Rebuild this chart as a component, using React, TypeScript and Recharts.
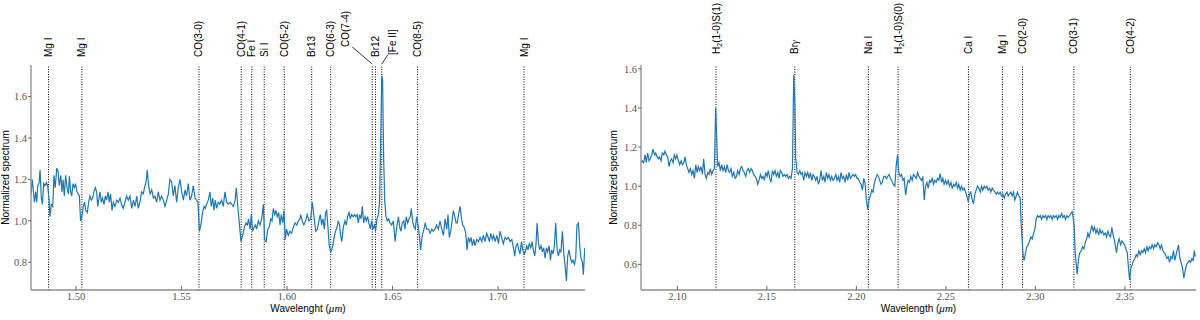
import React from 'react';
import { LineChart, Line, XAxis, YAxis, ReferenceLine } from 'recharts';

// H band spectrum (micron, normalized flux)
const hWave = [
  1.4787, 1.4793, 1.4803, 1.4809, 1.4814, 1.4819, 1.4825, 1.483, 1.4836, 1.4841, 1.4847, 1.4853, 1.486, 1.4866,
  1.4872, 1.4877, 1.4883, 1.489, 1.4896, 1.4902, 1.4909, 1.4915, 1.4921, 1.4928, 1.4934, 1.4939, 1.4945, 1.4951,
  1.4958, 1.4964, 1.4969, 1.4975, 1.498, 1.4986, 1.4992, 1.4998, 1.5005, 1.5011, 1.5016, 1.5022, 1.5028, 1.5035,
  1.5041, 1.5047, 1.5054, 1.506, 1.5066, 1.5073, 1.5079, 1.5085, 1.5092, 1.5098, 1.5103, 1.5109, 1.5114, 1.512,
  1.5126, 1.5133, 1.5139, 1.5145, 1.5152, 1.5158, 1.5164, 1.5171, 1.5177, 1.5185, 1.5193, 1.5201, 1.5209, 1.5216,
  1.5224, 1.5232, 1.524, 1.5248, 1.5256, 1.5264, 1.5272, 1.528, 1.5288, 1.5295, 1.5303, 1.5311, 1.5319, 1.5325,
  1.5332, 1.5338, 1.5344, 1.5351, 1.5359, 1.5367, 1.5374, 1.5382, 1.539, 1.5398, 1.5406, 1.5414, 1.5422, 1.543,
  1.5438, 1.5445, 1.5453, 1.5461, 1.5469, 1.5477, 1.5485, 1.5493, 1.5501, 1.5509, 1.5517, 1.5524, 1.5532, 1.554,
  1.5548, 1.5556, 1.5564, 1.5572, 1.5578, 1.5585, 1.5592, 1.56, 1.5607, 1.5613, 1.5619, 1.5627, 1.5635, 1.5641,
  1.5648, 1.5654, 1.566, 1.5667, 1.5674, 1.5682, 1.569, 1.5698, 1.5706, 1.5714, 1.5722, 1.573, 1.5738, 1.5746,
  1.5754, 1.576, 1.5766, 1.5774, 1.5782, 1.579, 1.5798, 1.5806, 1.5812, 1.5818, 1.5825, 1.5831, 1.5837, 1.5844,
  1.585, 1.5856, 1.5864, 1.5872, 1.588, 1.5888, 1.5894, 1.5901, 1.5909, 1.5916, 1.5923, 1.5929, 1.5935, 1.5942,
  1.5948, 1.5954, 1.5961, 1.5967, 1.5973, 1.598, 1.5986, 1.5992, 1.5998, 1.6006, 1.6014, 1.6022, 1.603, 1.6038,
  1.6046, 1.6054, 1.6062, 1.6065, 1.6072, 1.608, 1.6088, 1.6096, 1.6104, 1.6112, 1.612, 1.6128, 1.6136, 1.6144,
  1.6151, 1.6158, 1.6164, 1.617, 1.6177, 1.6183, 1.6188, 1.6194, 1.62, 1.6207, 1.6215, 1.6223, 1.623, 1.6237,
  1.6243, 1.6249, 1.6254, 1.626, 1.6267, 1.6275, 1.6281, 1.6287, 1.6294, 1.63, 1.6306, 1.6313, 1.6319, 1.6325,
  1.6332, 1.6338, 1.6344, 1.6351, 1.6357, 1.6363, 1.637, 1.6376, 1.6382, 1.6388, 1.6395, 1.6401, 1.6407, 1.6414,
  1.642, 1.6426, 1.6433, 1.6439, 1.6444, 1.6449, 1.6453, 1.6458, 1.6463, 1.6469, 1.6475, 1.6482, 1.6488, 1.6496,
  1.6504, 1.6512, 1.652, 1.6528, 1.6534, 1.654, 1.6546, 1.6553, 1.6559, 1.6565, 1.6572, 1.6578, 1.6584, 1.6589,
  1.6595, 1.6602, 1.6608, 1.6614, 1.6621, 1.6627, 1.6633, 1.6641, 1.6649, 1.6655, 1.6662, 1.667, 1.6678, 1.6686,
  1.6693, 1.6701, 1.6709, 1.6717, 1.6725, 1.6733, 1.6741, 1.6749, 1.6757, 1.6763, 1.6769, 1.6776, 1.6782, 1.6788,
  1.6795, 1.6801, 1.6807, 1.6813, 1.682, 1.6826, 1.6832, 1.6839, 1.6847, 1.6853, 1.6859, 1.6866, 1.6872, 1.6878,
  1.6885, 1.6891, 1.6899, 1.6907, 1.6915, 1.6923, 1.693, 1.6938, 1.6946, 1.6953, 1.6959, 1.6965, 1.6973, 1.6979,
  1.6986, 1.6994, 1.7002, 1.7009, 1.7017, 1.7025, 1.7033, 1.7041, 1.7049, 1.7057, 1.7065, 1.7073, 1.7079, 1.7085,
  1.7092, 1.7098, 1.7104, 1.7111, 1.7117, 1.7123, 1.7129, 1.7136, 1.7142, 1.7148, 1.7155, 1.7161, 1.7167, 1.7174,
  1.718, 1.7185, 1.7191, 1.7197, 1.7204, 1.721, 1.7216, 1.7223, 1.7229, 1.7235, 1.7242, 1.7248, 1.7254, 1.7261,
  1.7267, 1.7273, 1.728, 1.7286, 1.7292, 1.7298, 1.7305, 1.7311, 1.7317, 1.7324, 1.733, 1.7336, 1.7343, 1.7349,
  1.7355, 1.7362, 1.7368, 1.7374, 1.7381, 1.7387, 1.7393, 1.74, 1.7404, 1.7411,
];
const hFlux = [
  1.13, 1.2, 1.09, 1.14, 1.09, 1.17, 1.18, 1.245, 1.11, 1.08, 1.18, 1.17, 1.185, 1.17,
  1.11, 1.02, 1.08, 1.07, 1.22, 1.16, 1.255, 1.24, 1.17, 1.22, 1.14, 1.2, 1.12, 1.22,
  1.16, 1.13, 1.215, 1.14, 1.12, 1.18, 1.16, 1.18, 1.14, 1.13, 1.12, 1.0, 1.02, 1.07,
  1.09, 1.05, 1.04, 1.09, 1.12, 1.1, 1.11, 1.14, 1.16, 1.14, 1.07, 1.11, 1.14, 1.09,
  1.11, 1.08, 1.12, 1.1, 1.14, 1.09, 1.13, 1.05, 1.09, 1.07, 1.1, 1.09, 1.11, 1.08,
  1.06, 1.09, 1.12, 1.1, 1.12, 1.06, 1.1, 1.07, 1.12, 1.06, 1.09, 1.14, 1.13, 1.16,
  1.19, 1.245, 1.17, 1.13, 1.15, 1.11, 1.12, 1.09, 1.14, 1.1, 1.12, 1.1, 1.07, 1.1,
  1.13, 1.2, 1.19, 1.12, 1.17, 1.09, 1.16, 1.2, 1.14, 1.1, 1.15, 1.12, 1.18, 1.1,
  1.12, 1.17, 1.11, 1.1, 1.09, 0.95, 0.98, 1.04, 1.07, 1.06, 1.08, 1.1, 1.14, 1.07,
  1.11, 1.05, 1.1, 1.06, 1.09, 1.08, 1.1, 1.07, 1.14, 1.09, 1.08, 1.09, 1.08, 1.07,
  1.1, 1.16, 1.08, 0.99, 0.9, 0.93, 0.97, 0.99, 0.98, 1.01, 0.96, 1.03, 0.95, 0.97,
  0.98, 0.96, 1.0, 0.98, 1.01, 1.08, 0.91, 0.9, 0.96, 0.97, 1.01, 1.0, 1.06, 1.03,
  1.05, 1.02, 1.04, 0.98, 1.03, 0.99, 1.05, 0.91, 0.96, 0.93, 0.95, 0.94, 0.97, 0.99,
  0.98, 1.0, 1.01, 1.03, 1.0, 0.98, 1.0, 1.03, 1.0, 1.01, 1.09, 1.02, 0.95, 0.96,
  1.0, 1.03, 0.98, 1.01, 0.96, 1.04, 1.05, 0.97, 0.88, 0.85, 0.87, 0.92, 0.95, 0.97,
  1.0, 0.98, 0.93, 0.9, 0.97, 1.0, 0.98, 1.02, 1.04, 1.01, 1.03, 1.02, 1.03, 1.02,
  1.03, 0.99, 1.03, 1.01, 1.07, 0.99, 1.02, 1.0, 1.02, 0.99, 0.96, 1.0, 0.96, 0.98,
  0.95, 1.01, 1.03, 1.1, 1.4, 1.7, 1.68, 1.3, 1.1, 1.02, 1.0, 1.01, 0.99, 0.98,
  1.0, 0.9, 0.97, 1.02, 0.97, 0.95, 0.99, 1.0, 0.96, 1.02, 0.99, 1.01, 1.02, 1.06,
  1.0, 0.97, 0.96, 1.02, 0.98, 0.93, 0.86, 0.93, 0.96, 0.99, 0.96, 0.96, 0.94, 0.96,
  0.95, 0.96, 0.98, 0.96, 1.0, 0.96, 0.93, 1.01, 0.96, 1.03, 0.92, 0.95, 1.0, 1.05,
  1.02, 0.99, 0.99, 1.03, 1.07, 1.02, 0.98, 0.97, 0.94, 0.86, 0.92, 0.9, 0.92, 0.88,
  0.91, 0.88, 0.91, 0.9, 0.92, 0.9, 0.93, 0.9, 0.94, 0.92, 0.9, 0.94, 0.91, 0.93,
  0.9, 0.93, 0.89, 0.95, 0.92, 0.89, 0.92, 0.91, 0.92, 0.9, 0.91, 0.87, 0.83, 0.88,
  0.89, 0.86, 0.84, 0.9, 0.86, 0.84, 0.85, 0.88, 0.86, 0.89, 0.87, 0.9, 0.86, 0.83,
  0.89, 0.99, 0.9, 0.86, 0.88, 0.85, 0.87, 0.82, 0.87, 0.85, 0.88, 0.81, 0.86, 0.84,
  0.88, 0.99, 0.86, 0.83, 0.86, 0.85, 0.95, 0.85, 0.79, 0.71, 0.83, 0.86, 0.82, 0.8,
  0.81, 0.79, 0.82, 0.98, 0.99, 0.88, 0.82, 0.8, 0.74, 0.87,
];

// K band spectrum
const kWave = [
  2.0797, 2.0805, 2.0812, 2.082, 2.0827, 2.0834, 2.0842, 2.0849, 2.0857, 2.0864, 2.0872, 2.0879, 2.0887, 2.0894,
  2.0901, 2.0909, 2.0916, 2.0924, 2.0931, 2.0939, 2.0946, 2.0954, 2.0961, 2.0968, 2.0976, 2.0983, 2.0991, 2.0998,
  2.1006, 2.1013, 2.1021, 2.1028, 2.1036, 2.1043, 2.105, 2.1058, 2.1065, 2.1073, 2.108, 2.1088, 2.1095, 2.1103,
  2.111, 2.1117, 2.1125, 2.1132, 2.114, 2.1147, 2.1155, 2.1162, 2.117, 2.1177, 2.1184, 2.1192, 2.1199, 2.1207,
  2.1214, 2.122, 2.1225, 2.1233, 2.124, 2.1248, 2.1255, 2.1263, 2.127, 2.1278, 2.1285, 2.1292, 2.13, 2.1307,
  2.1315, 2.1322, 2.133, 2.1337, 2.1345, 2.1352, 2.1359, 2.1367, 2.1374, 2.1382, 2.1389, 2.1397, 2.1404, 2.1412,
  2.1419, 2.1426, 2.1434, 2.1441, 2.1449, 2.1456, 2.1464, 2.1471, 2.1479, 2.1486, 2.1494, 2.1501, 2.1508, 2.1516,
  2.1523, 2.1531, 2.1538, 2.1546, 2.1553, 2.1561, 2.1568, 2.1575, 2.1583, 2.159, 2.1598, 2.1605, 2.1613, 2.162,
  2.1628, 2.1635, 2.1643, 2.165, 2.1656, 2.1661, 2.1669, 2.1676, 2.1684, 2.1691, 2.1698, 2.1706, 2.1713, 2.1721,
  2.1728, 2.1736, 2.1743, 2.1751, 2.1758, 2.1765, 2.1773, 2.178, 2.1788, 2.1795, 2.1803, 2.181, 2.1818, 2.1825,
  2.1832, 2.184, 2.1847, 2.1855, 2.1862, 2.187, 2.1877, 2.1885, 2.1892, 2.19, 2.1907, 2.1914, 2.1922, 2.1929,
  2.1937, 2.1944, 2.1952, 2.1959, 2.1967, 2.1974, 2.1981, 2.1989, 2.1996, 2.2004, 2.2011, 2.2019, 2.2026, 2.2034,
  2.2041, 2.2048, 2.2056, 2.2063, 2.2071, 2.2078, 2.2086, 2.2093, 2.2101, 2.2108, 2.2116, 2.2123, 2.213, 2.2138,
  2.2145, 2.2153, 2.216, 2.2168, 2.2175, 2.2183, 2.219, 2.2196, 2.2206, 2.2215, 2.2222, 2.223, 2.2237, 2.2245,
  2.2252, 2.226, 2.2267, 2.2275, 2.2282, 2.2289, 2.2297, 2.2304, 2.2312, 2.2319, 2.2327, 2.2334, 2.2342, 2.2349,
  2.2356, 2.2364, 2.2371, 2.2379, 2.2386, 2.2394, 2.2401, 2.2409, 2.2416, 2.2423, 2.2431, 2.2438, 2.2446, 2.2453,
  2.2461, 2.2468, 2.2476, 2.2483, 2.249, 2.2498, 2.2505, 2.2513, 2.252, 2.2528, 2.2535, 2.2543, 2.255, 2.2558,
  2.2565, 2.2572, 2.258, 2.2587, 2.2595, 2.2602, 2.261, 2.2617, 2.2625, 2.2632, 2.2639, 2.2647, 2.2654, 2.2662,
  2.2669, 2.2677, 2.2684, 2.2692, 2.2699, 2.2706, 2.2714, 2.2721, 2.2729, 2.2736, 2.2744, 2.2751, 2.2759, 2.2766,
  2.2774, 2.2781, 2.2788, 2.2796, 2.2803, 2.2811, 2.2818, 2.2826, 2.2833, 2.2841, 2.2848, 2.2855, 2.2863, 2.287,
  2.2878, 2.2885, 2.2893, 2.29, 2.2908, 2.2915, 2.2921, 2.2926, 2.2932, 2.2937, 2.2945, 2.2952, 2.296, 2.2967,
  2.2975, 2.2982, 2.299, 2.2997, 2.3004, 2.3012, 2.3019, 2.3027, 2.3034, 2.3042, 2.3049, 2.3057, 2.3064, 2.3071,
  2.3079, 2.3086, 2.3094, 2.3101, 2.3109, 2.3116, 2.3124, 2.3131, 2.3138, 2.3146, 2.3153, 2.3161, 2.3168, 2.3176,
  2.3183, 2.3191, 2.3198, 2.3205, 2.3211, 2.3217, 2.3222, 2.3228, 2.3233, 2.3241, 2.3248, 2.3256, 2.3263, 2.3271,
  2.3278, 2.3286, 2.3293, 2.33, 2.3308, 2.3315, 2.3323, 2.333, 2.3338, 2.3345, 2.3353, 2.336, 2.3367, 2.3375,
  2.3382, 2.339, 2.3397, 2.3405, 2.3412, 2.342, 2.3427, 2.3434, 2.3442, 2.3453, 2.3461, 2.3468, 2.3476, 2.3483,
  2.3491, 2.3498, 2.3505, 2.3513, 2.352, 2.3526, 2.3533, 2.3541, 2.3548, 2.3556, 2.3563, 2.357, 2.3578, 2.3585,
  2.3593, 2.36, 2.3608, 2.3615, 2.3623, 2.363, 2.3637, 2.3645, 2.3652, 2.366, 2.3667, 2.3675, 2.3682, 2.369,
  2.3697, 2.3704, 2.3712, 2.3719, 2.3727, 2.3734, 2.3742, 2.3749, 2.3757, 2.3764, 2.3771, 2.3779, 2.3786, 2.3799,
  2.3807, 2.3814, 2.3822, 2.3829, 2.3837, 2.3844, 2.3852, 2.3859, 2.3867, 2.3874, 2.3881, 2.3887, 2.3893,
];
const kFlux = [
  1.12, 1.13, 1.12, 1.16, 1.12, 1.17, 1.13, 1.14, 1.16, 1.19, 1.16, 1.17, 1.15, 1.14,
  1.15, 1.13, 1.17, 1.16, 1.18, 1.16, 1.15, 1.1, 1.13, 1.14, 1.12, 1.16, 1.14, 1.16,
  1.13, 1.11, 1.13, 1.11, 1.12, 1.15, 1.11, 1.09, 1.07, 1.09, 1.06, 1.08, 1.04, 1.11,
  1.07, 1.1, 1.08, 1.1, 1.06, 1.14, 1.06, 1.04, 1.07, 1.06, 1.09, 1.06, 1.08, 1.09,
  1.4, 1.25, 1.1, 1.12, 1.08, 1.11, 1.08, 1.1, 1.07, 1.11, 1.08, 1.07, 1.09, 1.05,
  1.07, 1.04, 1.05, 1.08, 1.06, 1.09, 1.1, 1.08, 1.07, 1.05, 1.08, 1.09, 1.07, 1.09,
  1.08, 1.06, 1.05, 1.04, 1.01, 1.03, 1.06, 1.04, 1.05, 1.03, 1.07, 1.05, 1.08, 1.04,
  1.02, 1.08, 1.06, 1.08, 1.05, 1.07, 1.04, 1.08, 1.07, 1.05, 1.06, 1.05, 1.06, 1.04,
  1.05, 1.04, 1.09, 1.57, 1.45, 1.15, 1.07, 1.06, 1.08, 1.06, 1.07, 1.03, 1.07, 1.05,
  1.07, 1.04, 1.07, 1.03, 1.06, 1.05, 1.03, 1.05, 1.01, 1.03, 1.08, 1.03, 1.05, 1.02,
  1.07, 1.04, 1.06, 1.03, 1.05, 1.03, 1.04, 1.06, 1.03, 1.05, 1.02, 1.07, 1.04, 1.05,
  1.02, 1.06, 1.03, 1.07, 1.04, 1.05, 1.06, 1.05, 1.06, 1.04, 1.04, 1.02, 1.01, 0.98,
  1.04, 1.02, 0.93, 0.88, 0.93, 0.95, 0.98, 0.97, 1.02, 1.04, 1.06, 1.05, 1.03, 1.01,
  1.02, 1.05, 1.05, 1.04, 1.05, 1.06, 1.04, 1.03, 1.01, 1.0, 1.1, 1.16, 1.07, 1.05,
  1.06, 1.03, 1.04, 0.955, 1.0, 1.03, 1.02, 1.05, 1.03, 1.06, 1.05, 1.04, 1.07, 1.05,
  1.04, 1.03, 1.05, 0.93, 1.0, 1.02, 0.99, 1.03, 1.02, 1.04, 1.01, 1.03, 1.02, 1.04,
  1.03, 1.065, 1.02, 1.04, 1.01, 1.03, 1.01, 1.03, 1.0, 1.02, 0.99, 1.01, 1.0, 1.02,
  0.99, 1.01, 0.98, 1.0, 0.98, 0.99, 0.97, 0.95, 0.92, 0.96, 0.97, 0.93, 0.91, 0.96,
  0.98, 1.0, 0.99, 0.97, 1.0, 0.98, 1.0, 0.99, 1.0, 0.98, 0.99, 0.97, 0.99, 0.98,
  0.97, 0.96, 0.97, 0.96, 0.97, 0.95, 0.96, 0.94, 0.96, 0.97, 0.95, 0.96, 0.97, 0.95,
  0.97, 0.93, 0.95, 0.97, 0.95, 0.94, 0.8, 0.72, 0.64, 0.62, 0.66, 0.69, 0.7, 0.72,
  0.74, 0.73, 0.76, 0.78, 0.83, 0.85, 0.84, 0.85, 0.83, 0.85, 0.84, 0.85, 0.83, 0.85,
  0.84, 0.85, 0.83, 0.85, 0.84, 0.85, 0.83, 0.85, 0.84, 0.86, 0.84, 0.85, 0.83, 0.85,
  0.84, 0.85, 0.86, 0.87, 0.84, 0.78, 0.66, 0.6, 0.55, 0.63, 0.66, 0.67, 0.69, 0.68,
  0.71, 0.73, 0.76, 0.74, 0.77, 0.8, 0.77, 0.79, 0.76, 0.78, 0.75, 0.78, 0.76, 0.77,
  0.75, 0.76, 0.74, 0.77, 0.75, 0.74, 0.79, 0.75, 0.72, 0.66, 0.71, 0.73, 0.7, 0.72,
  0.71, 0.7, 0.68, 0.66, 0.58, 0.52, 0.58, 0.6, 0.62, 0.63, 0.65, 0.64, 0.67, 0.65,
  0.67, 0.66, 0.68, 0.66, 0.69, 0.67, 0.69, 0.68, 0.7, 0.68, 0.7, 0.69, 0.71, 0.7,
  0.68, 0.7, 0.67, 0.66, 0.65, 0.63, 0.64, 0.61, 0.64, 0.63, 0.67, 0.62, 0.65, 0.7,
  0.63, 0.61, 0.58, 0.53, 0.57, 0.6, 0.61, 0.62, 0.61, 0.63, 0.62, 0.67, 0.64,
];

// identified features
const hLineNames = ['Mg I', 'Mg I', 'CO(3-0)', 'CO(4-1)', 'Fe I', 'Si I', 'CO(5-2)', 'Br13', 'CO(6-3)', 'CO(7-4)', 'Br12', '[Fe II]', 'CO(8-5)', 'Mg I'];
const hLineWaves = [1.487, 1.5028, 1.5583, 1.5783, 1.5833, 1.5892, 1.5987, 1.6117, 1.6207, 1.6404, 1.6419, 1.6449, 1.6619, 1.7123];
const kLineNames = ['H2(1-0)S(1)', 'Brγ', 'Na I', 'H2(1-0)S(0)', 'Ca I', 'Mg I', 'CO(2-0)', 'CO(3-1)', 'CO(4-2)'];
const kLineWaves = [2.1216, 2.1656, 2.2067, 2.2233, 2.2626, 2.2816, 2.2928, 2.3215, 2.353];

const hXTicks = [1.5, 1.55, 1.6, 1.65, 1.7];
const hYTicks = [0.8, 1.0, 1.2, 1.4, 1.6];
const kXTicks = [2.1, 2.15, 2.2, 2.25, 2.3, 2.35];
const kYTicks = [0.6, 0.8, 1.0, 1.2, 1.4, 1.6];

// labels that are pushed aside, with a leader line
const labelShift: Record<string, { dx: number; gap: number; lead: number }> = {
  'CO(7-4)': { dx: -27, gap: 18, lead: 7 },
  '[Fe II]': { dx: 11, gap: 10, lead: -5 },
};

const AXIS = '#8c8c8c';
const SPEC = '#1f77b4';
const SANS = '"Liberation Sans", Arial, sans-serif';
const SERIF = '"Liberation Serif", "DejaVu Serif", serif';

function nameText(name: string) {
  if (name.startsWith('H2')) {
    return (
      <>
        <tspan>H</tspan>
        <tspan fontSize={7} dy={2}>2</tspan>
        <tspan dy={-2}>{name.slice(2)}</tspan>
      </>
    );
  }
  if (name === 'Brγ') {
    return (
      <>
        <tspan>Br</tspan>
        <tspan fontFamily={SERIF} fontStyle="italic">γ</tspan>
      </>
    );
  }
  return name;
}

function MarkLabel(props: any) {
  const { viewBox, name, gap } = props;
  const lx = viewBox.x;
  const top = viewBox.y;
  const s = labelShift[name];
  const cx = lx + (s ? s.dx : 0);
  const bottom = top - (s ? s.gap : gap);
  return (
    <g>
      {s && (
        <line x1={cx + s.lead} y1={bottom} x2={lx} y2={top - 1} stroke="#000" strokeWidth={0.8} />
      )}
      <text
        transform={`translate(${cx + 3.5},${bottom}) rotate(-90)`}
        fontFamily={SANS}
        fontSize={10}
        fill="#000"
      >
        {nameText(name)}
      </text>
    </g>
  );
}

function XTick(props: any) {
  const { x, y, payload } = props;
  return (
    <text x={x} y={y} dy="0.71em" textAnchor="middle" fontFamily={SERIF} fontSize={10.5} fill="#555">
      {Number(payload.value).toFixed(2)}
    </text>
  );
}

function YTick(props: any) {
  const { x, y, payload } = props;
  return (
    <text x={x} y={y} dy="0.35em" textAnchor="end" fontFamily={SERIF} fontSize={10.5} fill="#555">
      {Number(payload.value).toFixed(1)}
    </text>
  );
}

function XLabel(props: any) {
  const { viewBox, text } = props;
  return (
    <text
      x={viewBox.x + viewBox.width / 2}
      y={viewBox.y + 22}
      textAnchor="middle"
      fontFamily={SANS}
      fontSize={10}
      fill="#000"
    >
      {text} (<tspan fontFamily={SERIF} fontStyle="italic" fontSize={11}>μm</tspan>)
    </text>
  );
}

function YLabel(props: any) {
  const { viewBox, x } = props;
  const cy = viewBox.y + viewBox.height / 2;
  return (
    <text
      transform={`translate(${x},${cy}) rotate(-90)`}
      textAnchor="middle"
      fontFamily={SANS}
      fontSize={10}
      fill="#000"
    >
      Normalized spectrum
    </text>
  );
}

type PanelProps = {
  wave: number[];
  flux: number[];
  names: string[];
  lines: number[];
  xDomain: [number, number];
  yDomain: [number, number];
  xTicks: number[];
  yTicks: number[];
  yAxisWidth: number;
  marginRight: number;
  labelGap: number;
  xTitle: string;
  yTitleX: number;
};

function Panel(p: PanelProps) {
  const data = p.wave.map((w, i) => ({ w, f: p.flux[i] }));
  return (
    <LineChart
      width={600}
      height={320}
      data={data}
      margin={{ top: 65, right: p.marginRight, bottom: 0, left: 0 }}
    >
      <XAxis
        dataKey="w"
        type="number"
        domain={p.xDomain}
        allowDataOverflow
        ticks={p.xTicks}
        tick={<XTick />}
        tickSize={-4}
        tickMargin={7}
        height={30}
        axisLine={{ stroke: AXIS, strokeWidth: 1.3 }}
        tickLine={{ stroke: '#666' }}
        label={(lp: any) => <XLabel viewBox={lp.viewBox} text={p.xTitle} />}
      />
      <XAxis
        xAxisId="top"
        orientation="top"
        dataKey="w"
        type="number"
        domain={p.xDomain}
        allowDataOverflow
        height={0}
        tick={false}
        tickLine={false}
        axisLine={{ stroke: AXIS, strokeWidth: 1.3 }}
      />
      <YAxis
        type="number"
        domain={p.yDomain}
        allowDataOverflow
        ticks={p.yTicks}
        tick={<YTick />}
        tickSize={3}
        tickMargin={1}
        width={p.yAxisWidth}
        axisLine={{ stroke: AXIS, strokeWidth: 1.3 }}
        tickLine={{ stroke: '#666' }}
        label={(lp: any) => <YLabel viewBox={lp.viewBox} x={p.yTitleX} />}
      />
      <YAxis
        yAxisId="right"
        orientation="right"
        domain={p.yDomain}
        width={0}
        tick={false}
        tickLine={false}
        axisLine={{ stroke: AXIS, strokeWidth: 1.3 }}
      />
      {p.lines.map((w, i) => (
        <ReferenceLine
          key={i}
          x={w}
          stroke="#000"
          strokeWidth={1}
          strokeDasharray="1 1.5"
          label={(lp: any) => <MarkLabel viewBox={lp.viewBox} name={p.names[i]} gap={p.labelGap} />}
        />
      ))}
      <Line
        dataKey="f"
        type="linear"
        stroke={SPEC}
        strokeWidth={1.2}
        dot={false}
        activeDot={false}
        isAnimationActive={false}
      />
    </LineChart>
  );
}

export default function App() {
  return (
    <div
      style={{
        position: 'absolute',
        left: 0,
        top: 0,
        width: 1200,
        height: 320,
        display: 'flex',
        background: '#fff',
      }}
    >
      <Panel
        wave={hWave}
        flux={hFlux}
        names={hLineNames}
        lines={hLineWaves}
        xDomain={[1.4787, 1.7412]}
        yDomain={[0.666, 1.753]}
        xTicks={hXTicks}
        yTicks={hYTicks}
        yAxisWidth={31}
        marginRight={15}
        labelGap={8}
        xTitle="Wavelenght"
        yTitleX={9}
      />
      <Panel
        wave={kWave}
        flux={kFlux}
        names={kLineNames}
        lines={kLineWaves}
        xDomain={[2.0797, 2.3897]}
        yDomain={[0.469, 1.62]}
        xTicks={kXTicks}
        yTicks={kYTicks}
        yAxisWidth={41}
        marginRight={4}
        labelGap={11}
        xTitle="Wavelength"
        yTitleX={17}
      />
    </div>
  );
}
